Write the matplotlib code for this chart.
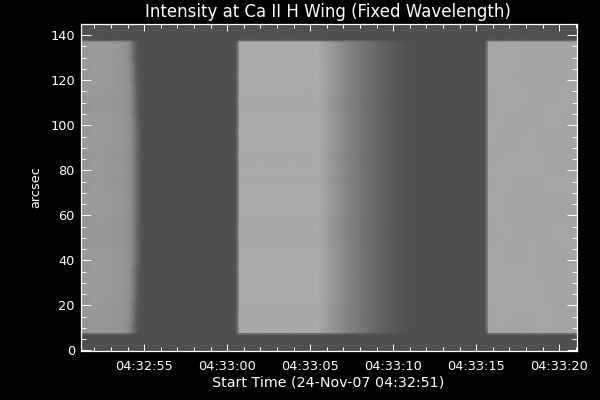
from matplotlib import pyplot as plt
from matplotlib.ticker import MultipleLocator

import numpy as np

# scan time in seconds after 04:32:51 and gray level read at that time
scan_times = [0.16, 1.0, 2.0, 2.7, 3.0, 3.2, 3.4, 3.55, 3.7, 3.9,
              9.5, 9.56, 9.66, 9.72, 12.0, 14.0, 14.4, 14.7, 15.2, 15.8, 16.4, 17.0,
              17.6, 18.2, 18.8, 19.4, 20.0, 20.5,
              24.56, 24.6, 24.68, 24.74, 25.6, 26.5, 27.4, 28.3, 29.2, 30.04]
scan_gray = [150, 155, 153, 149, 142, 128, 104, 90, 82, 79,
             79, 108, 110, 170, 170, 170, 172, 166, 154, 142, 130, 120,
             110, 101, 93, 86, 81, 79,
             79, 112, 112, 165, 165, 165, 165, 165, 165, 165]

# arcsec along the slit, bottom to top
slit_pos = [10, 15, 20, 25, 30, 35, 40, 45, 50, 55, 60, 65, 70, 75, 80, 85, 90, 95,
            100, 105, 110, 115, 120, 125, 130, 135]
row_banding = [-4, -3, -2, 1, 2, 2, 1, -1, -4, -5, -1, 2, 0, -2, -1, -3, 0, 2, 1, -1,
               -6, -1, 1, 1, 0, -1]
left_edge_shift = [0, 1, 1, 2, 2, 2, 3, 3, 3, 3, 3, 3, 3, 3, 3, 3, 3, 3, 3, 2, 2, 2, 1, 1, 0, 0]

# mottling of the last exposure, one row per 10 arcsec, bottom to top
right_mottle = [[1, -1, 0, 1, -2, 0],
                [2, 1, 3, 0, -1, -2],
                [1, 2, 1, -1, 0, 0],
                [0, -1, 1, -2, -1, 1],
                [1, 0, -1, 0, 1, -1],
                [0, -2, 0, -1, -3, 0],
                [1, -1, -2, 1, 0, 1],
                [0, 1, 2, 0, -2, -1],
                [-1, 0, 1, -2, -1, 0],
                [0, -2, -1, 1, 0, -1],
                [1, 1, 0, -2, 1, 0],
                [2, 0, -2, -3, 0, 1],
                [1, 1, -1, -2, -1, 0]]

background_gray = 79
y_bottom = -0.4
y_top = 145.2
t_start = 0.16
t_end = 30.04

x_ticks = [4, 9, 14, 19, 24, 29]
x_labels = ['04:32:55', '04:33:00', '04:33:05', '04:33:10', '04:33:15', '04:33:20']
y_ticks = [0, 20, 40, 60, 80, 100, 120, 140]

plt.rcParams['font.family'] = ['DejaVu Sans']

scan_gray = np.array(scan_gray, dtype=float)
scan_times = np.array(scan_times)
n_cols = len(scan_times)

# rim rows at both slit ends, then the flat background outside
y_nodes = [y_bottom, 7.0, 7.3, 7.7, 8.0] + slit_pos + [137.3, 137.6, 138.0, 138.3, y_top]
n_rows = len(y_nodes)
image = np.full((n_rows, n_cols), float(background_gray))
x_nodes = np.tile(scan_times, (n_rows, 1))
y_grid = np.tile(np.array(y_nodes)[:, None], (1, n_cols))

first_row = 5
last_row = first_row + len(slit_pos) - 1
right_first = 32
for i in range(len(slit_pos)):
    row = scan_gray + row_banding[i] * (scan_gray - background_gray) / 180.0
    row[right_first:] = scan_gray[right_first:] + np.array(right_mottle[i // 2]) * 0.7
    image[first_row + i] = row
    # edge of the first exposure bends with slit position
    x_nodes[first_row + i, 3:10] += left_edge_shift[i] * 0.06

for r in [2, 3, last_row + 2, last_row + 3]:
    image[r] = background_gray + (scan_gray - background_gray) * 0.3
image[4] = image[first_row]
image[last_row + 1] = image[last_row]

fig = plt.figure(figsize=(6, 4), dpi=100, facecolor='black')
ax = fig.add_axes([80.5 / 600, 1 - 351.3 / 400, 496 / 600, 327.8 / 400], facecolor='black')
ax.pcolormesh(x_nodes, y_grid, image, cmap='gray', vmin=0, vmax=255, shading='gouraud')

ax.set_xlim(t_start, t_end)
ax.set_ylim(y_bottom, y_top)

ax.set_xticks(x_ticks)
ax.set_xticklabels(x_labels)
ax.set_yticks(y_ticks)
ax.xaxis.set_minor_locator(MultipleLocator(1))
ax.yaxis.set_minor_locator(MultipleLocator(5))

ax.tick_params(axis='x', which='major', direction='in', top=True, bottom=True, length=5,
               width=0.75, color='white', labelcolor='white', labelsize=9.3, pad=6)
ax.tick_params(axis='x', which='minor', direction='in', top=True, bottom=True, length=2.9,
               width=0.75, color='white')
ax.tick_params(axis='y', which='major', direction='in', left=True, right=True, length=7.2,
               width=0.75, color='white', labelcolor='white', labelsize=9.3, pad=4)
ax.tick_params(axis='y', which='minor', direction='in', left=True, right=True, length=3.6,
               width=0.75, color='white')
for spine in ax.spines.values():
    spine.set_color('white')
    spine.set_linewidth(0.9)

fig.text(328 / 600, 1 - 12 / 400, 'Intensity at Ca II H Wing (Fixed Wavelength)', color='white',
         fontsize=12, ha='center', va='center')
fig.text(328 / 600, 1 - 382 / 400, 'Start Time (24-Nov-07 04:32:51)', color='white',
         fontsize=10.3, ha='center', va='center')
fig.text(36 / 600, 1 - 187 / 400, 'arcsec', color='white', fontsize=9.3, rotation=90,
         ha='center', va='center')

fig.savefig('out.png', dpi=100, facecolor='black')
